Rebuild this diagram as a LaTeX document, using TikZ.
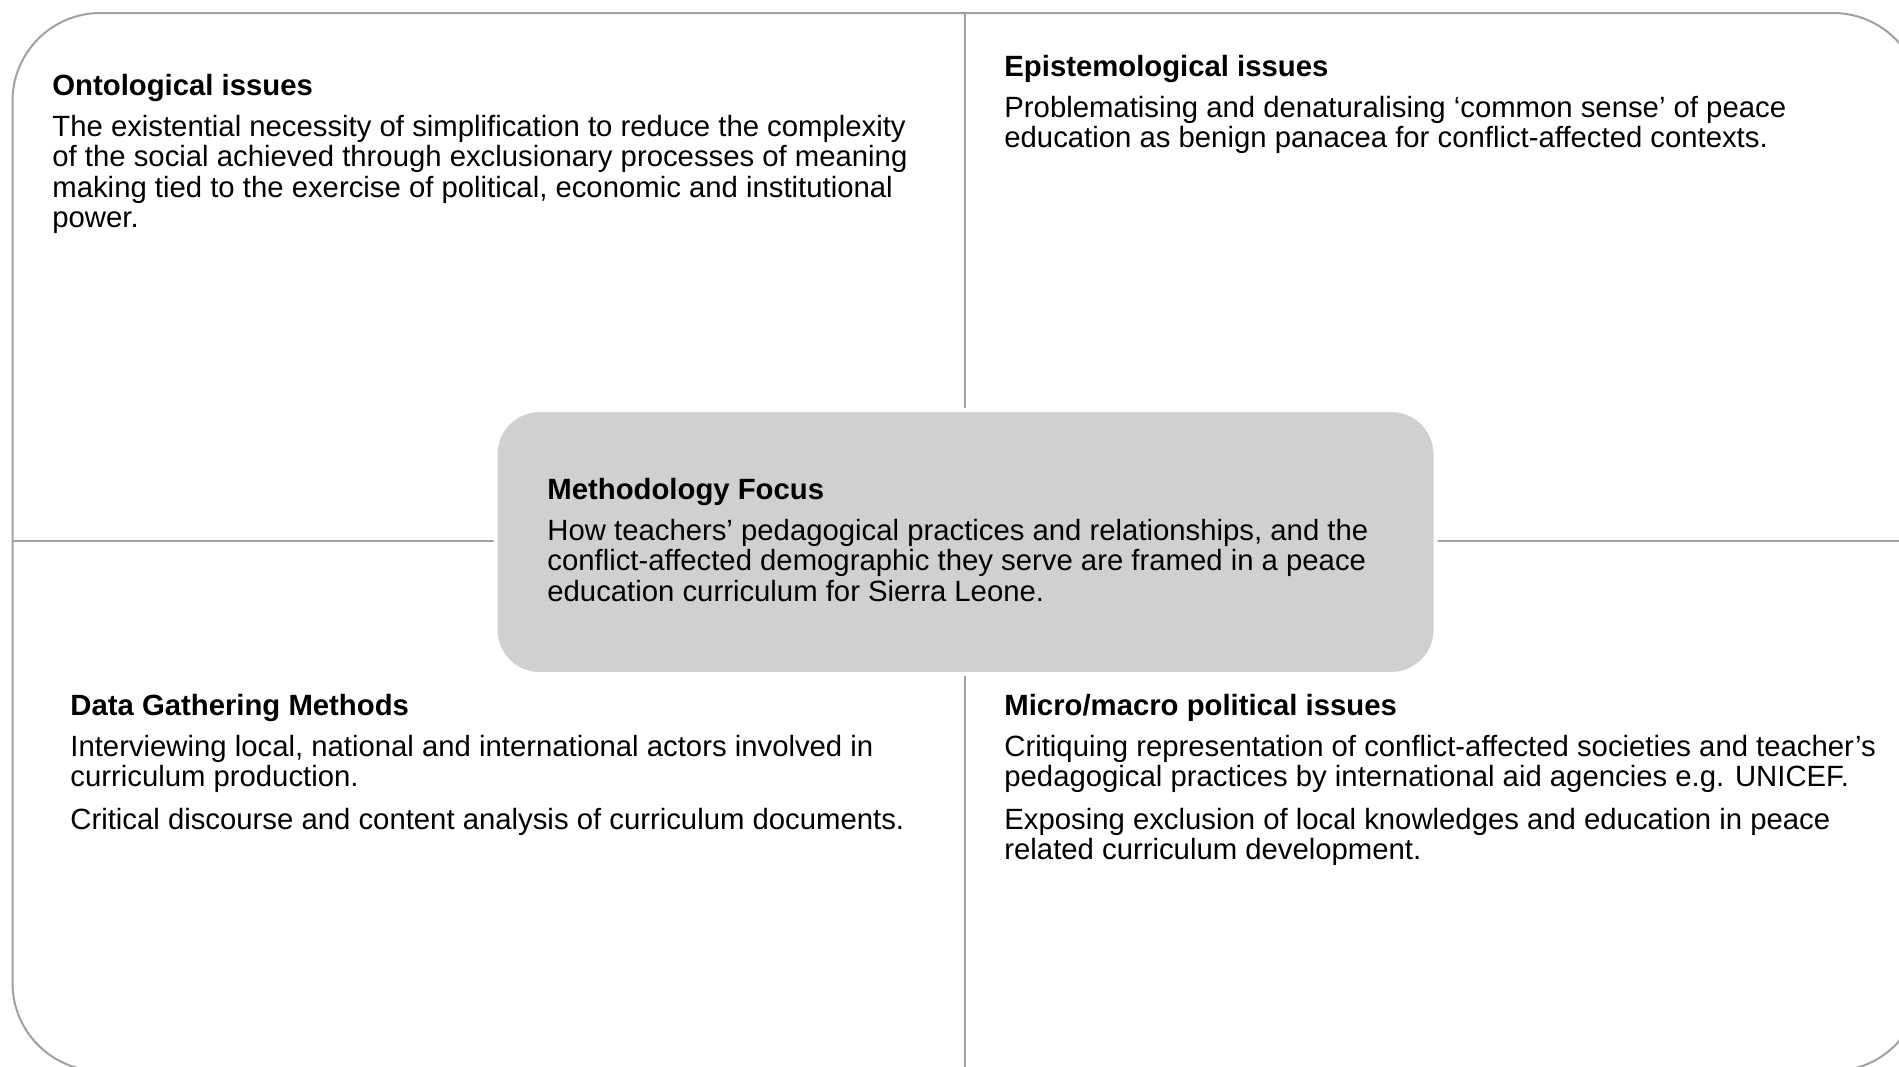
\documentclass[tikz,border=0pt]{standalone}
\usepackage{fontspec}
\setmainfont{Liberation Sans}
\usepackage{tikz}
\usetikzlibrary{positioning}

\definecolor{linegray}{RGB}{160,160,160}
\definecolor{focusgray}{RGB}{208,208,208}

% lines of a body text, baseline at the first line
\newcommand{\bodylines}[1]{\begin{tabular}[t]{@{}l@{}}#1\end{tabular}}

\tikzset{
  frame/.style={draw=linegray, line width=1pt},
  hdr/.style={inner sep=0pt, anchor=base west, font=\fontsize{14.65pt}{15.3pt}\selectfont\bfseries},
  txt/.style={inner sep=0pt, anchor=base west, font=\fontsize{14.65pt}{15.3pt}\selectfont},
  focusbox/.style={fill=focusgray, draw=white, line width=2pt, rounded corners=22pt,
                   minimum width=470pt, minimum height=132pt}
}

\begin{document}
\begin{tikzpicture}[x=0.5pt, y=-0.5pt]
 \useasboundingbox (0,0) rectangle (1899,1066);
 \clip (0,0) rectangle (1899,1066);
 % outer frame and the cross
 \draw[frame, rounded corners=44pt] (12.5,13) rectangle (1921,1071);
 \draw[frame] (965,13) -- (965,1071);
 \draw[frame] (12.5,541) -- (1921,541);
 \node[focusbox] (focus) at (965.5,542) {};

 % quadrants
 \node[hdr] (ontoT) at (52,95) {Ontological issues};
 \node[txt] (ontoB) at ([yshift=-20.5pt]ontoT.base west) {\bodylines{%
   The existential necessity of simplification to reduce the complexity\\
   of the social achieved through exclusionary processes of meaning\\
   making tied to the exercise of political, economic and institutional\\
   power.}};

 \node[hdr] (epistT) at (1004,76) {Epistemological issues};
 \node[txt] (epistB) at ([yshift=-20.5pt]epistT.base west) {\bodylines{%
   Problematising and denaturalising `common sense' of peace\\
   education as benign panacea for conflict-affected contexts.}};

 \node[hdr] (focusT) at (547,499) {Methodology Focus};
 \node[txt] (focusB) at ([yshift=-20.5pt]focusT.base west) {\bodylines{%
   How teachers' pedagogical practices and relationships, and the\\
   conflict-affected demographic they serve are framed in a peace\\
   education curriculum for Sierra Leone.}};

 \node[hdr] (dataT) at (70,715) {Data Gathering Methods};
 \node[txt] (dataB) at ([yshift=-20.5pt]dataT.base west) {\bodylines{%
   Interviewing local, national and international actors involved in\\
   curriculum production.\\[6pt]
   Critical discourse and content analysis of curriculum documents.}};

 \node[hdr] (polT) at (1004,715) {Micro/macro political issues};
 \node[txt] (polB) at ([yshift=-20.5pt]polT.base west) {\bodylines{%
   Critiquing representation of conflict-affected societies and teacher's\\
   pedagogical practices by international aid agencies e.g. UNICEF.\\[6pt]
   Exposing exclusion of local knowledges and education in peace\\
   related curriculum development.}};
\end{tikzpicture}
\end{document}
